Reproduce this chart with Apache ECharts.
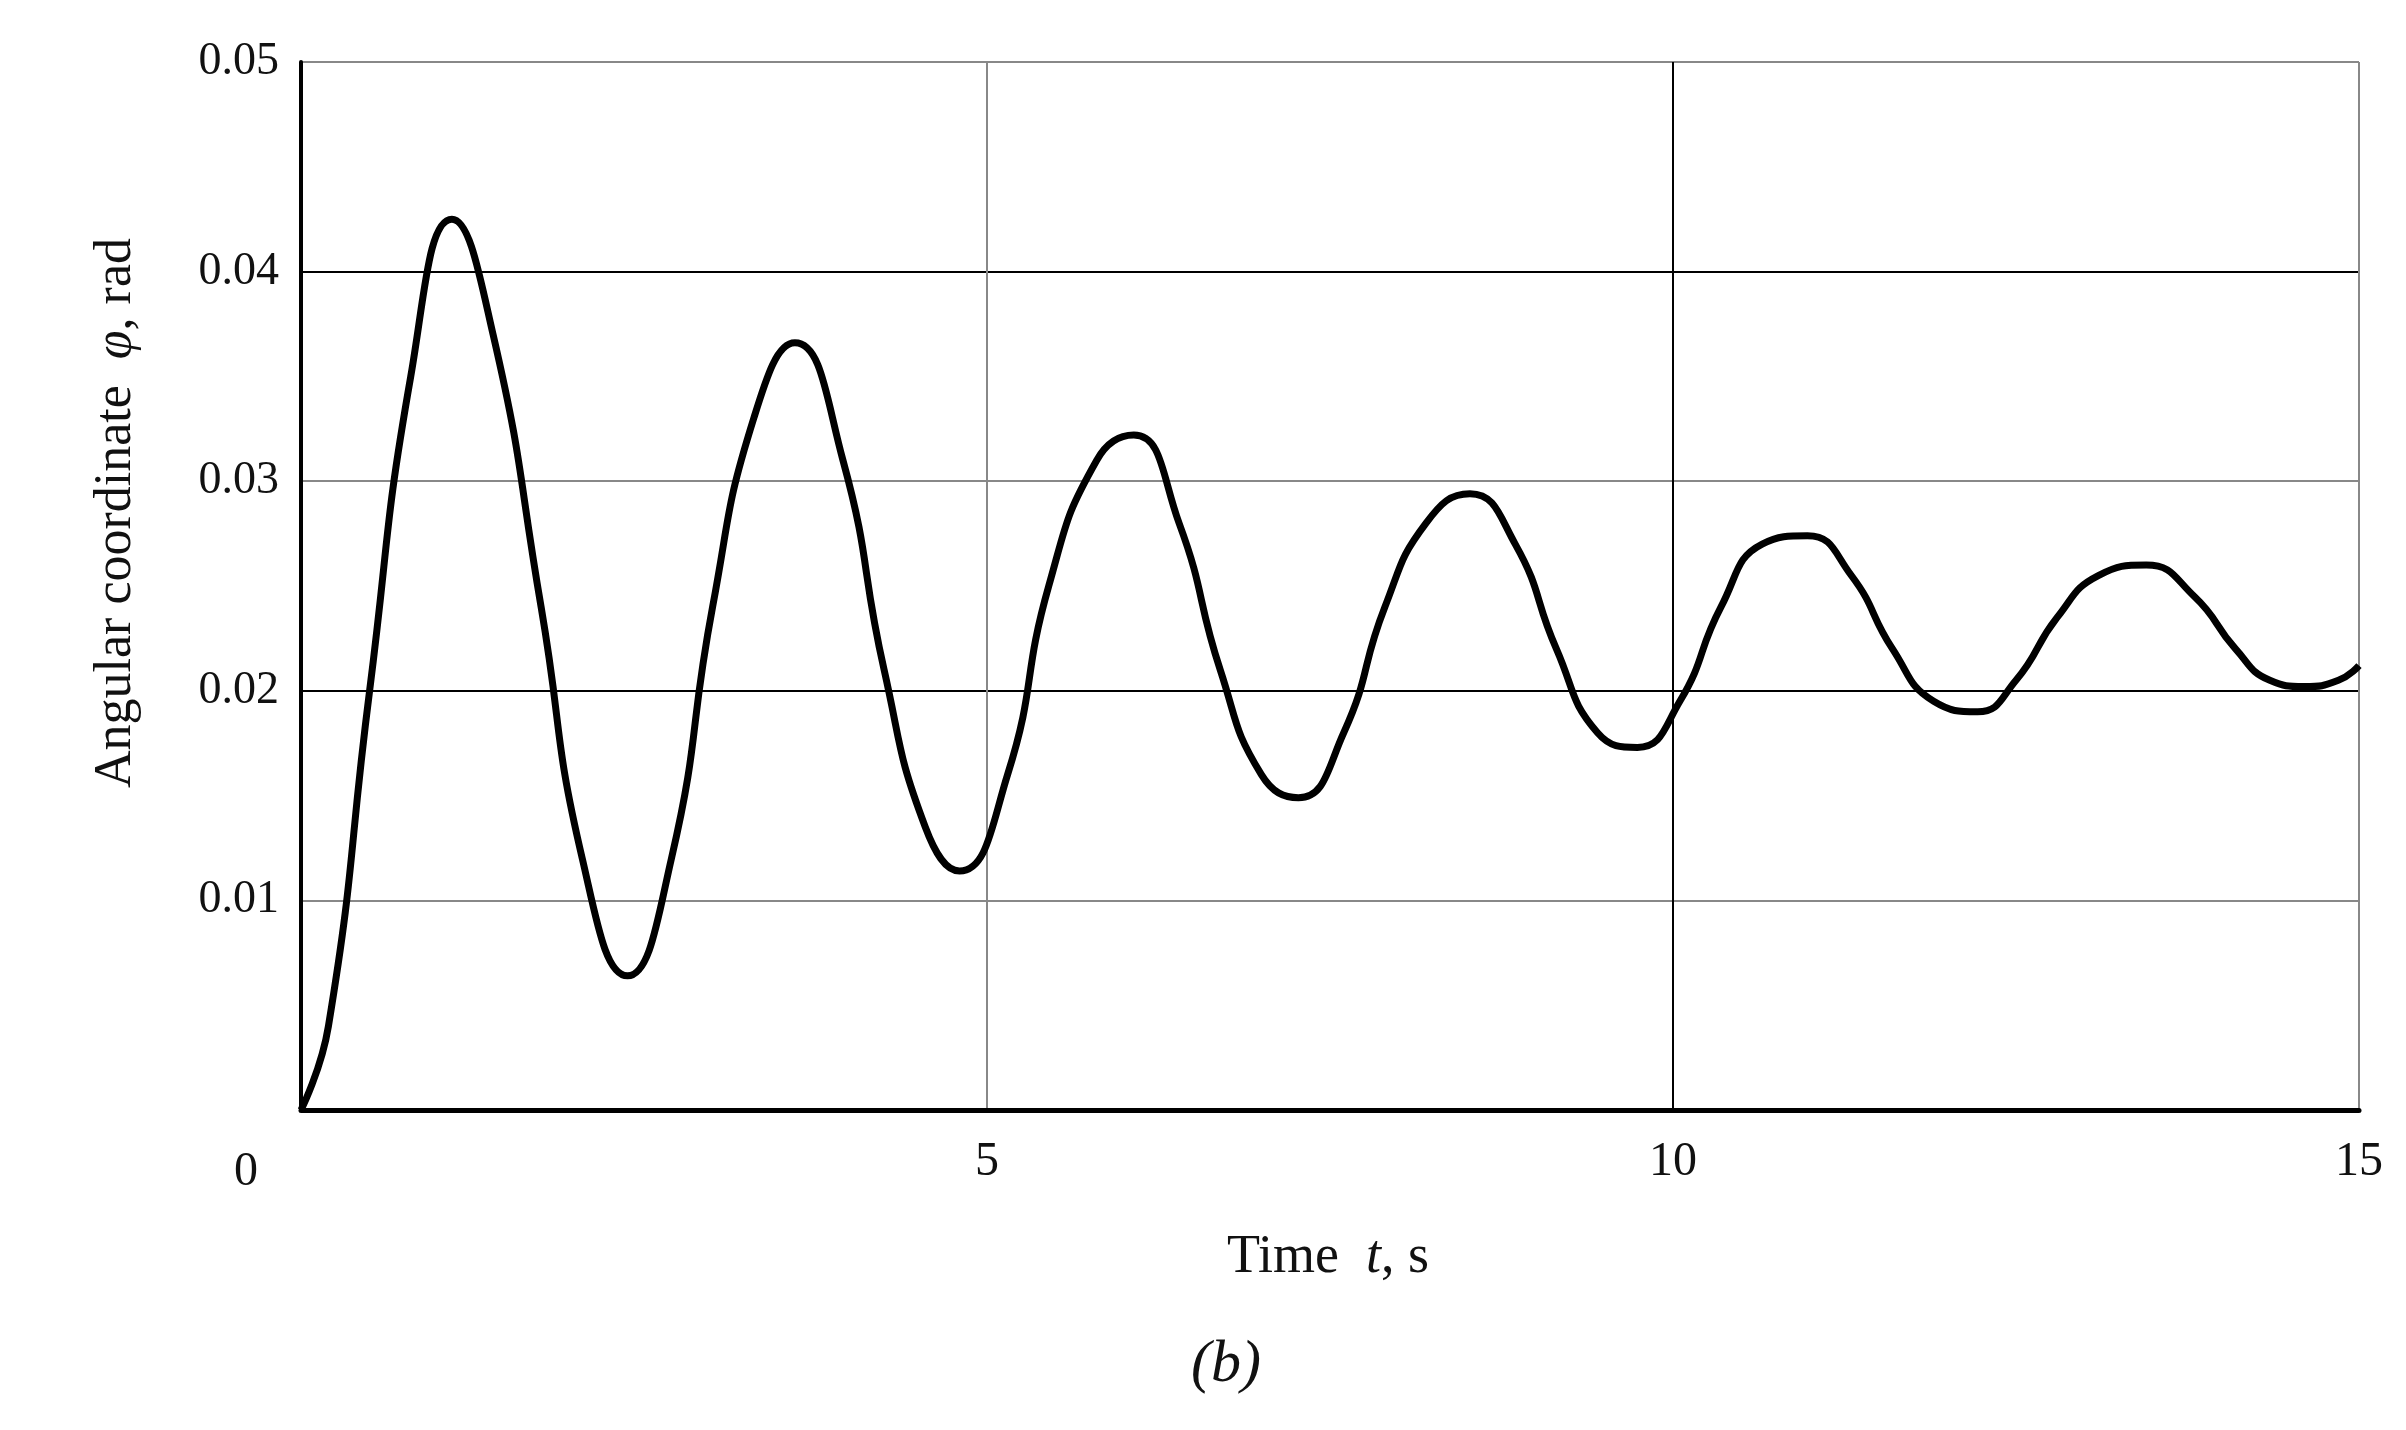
<!DOCTYPE html>
<html><head><meta charset="utf-8">
<script src="https://cdn.jsdelivr.net/npm/echarts@6/dist/echarts.min.js"></script>
<style>html,body{margin:0;background:#fff}#c{width:2406px;height:1430px}</style>
</head><body><div id="c"></div>
<script>
// time (s) and angle (rad)
const times = [0, 0.2, 0.5, 0.8, 1.1, 1.4, 1.75, 2.05, 2.38, 2.7, 3.0, 3.3, 3.6, 3.95, 4.25, 4.55, 4.8, 5.15, 5.45, 5.8, 6.07, 6.4, 6.7, 7.0, 7.27, 7.6, 7.9, 8.2, 8.52, 8.85, 9.15, 9.45, 9.74, 10.05, 10.35, 10.65, 10.98, 11.3, 11.6, 11.9, 12.22, 12.5, 12.8, 13.1, 13.45, 13.8, 14.1, 14.35, 14.6, 14.85, 15]
const angles = [0, 0.004, 0.02, 0.035, 0.0425, 0.037, 0.024, 0.012, 0.0064, 0.012, 0.024, 0.033, 0.0366, 0.031, 0.021, 0.0135, 0.0114, 0.016, 0.025, 0.031, 0.0322, 0.028, 0.021, 0.016, 0.0149, 0.018, 0.024, 0.028, 0.0294, 0.027, 0.022, 0.018, 0.0173, 0.0195, 0.024, 0.027, 0.0274, 0.0255, 0.022, 0.0195, 0.019, 0.0205, 0.0235, 0.0255, 0.026, 0.0245, 0.022, 0.0205, 0.0202, 0.0205, 0.0212]
const xTicks = [0, 5, 10, 15]
const yTicks = [0.01, 0.02, 0.03, 0.04, 0.05]

const font = 'Liberation Serif'
const chart = echarts.init(document.getElementById('c'))
chart.setOption({
    animation: false,
    grid: {left: 301, right: 47, top: 62, bottom: 320},
    xAxis: {
        type: 'value', min: 0, max: 15, interval: 5,
        axisLine: {lineStyle: {color: '#000', width: 5}},
        axisTick: {show: false},
        splitLine: {lineStyle: {color: ['#000', '#888'], width: 2}},
        axisLabel: {
            fontFamily: font, fontSize: 48, color: '#111', margin: 28,
            formatter: v => (v === 0 ? '' : String(v))
        }
    },
    yAxis: {
        type: 'value', min: 0, max: 0.05, interval: 0.01,
        axisLine: {lineStyle: {color: '#000', width: 4}},
        axisTick: {show: false},
        splitLine: {lineStyle: {color: ['#000', '#888'], width: 2}},
        axisLabel: {
            fontFamily: font, fontSize: 46, color: '#111', margin: 22,
            verticalAlign: 'middle',
            formatter: v => (yTicks.some(t => Math.abs(t - v) < 1e-9) ? v.toFixed(2) : '')
        }
    },
    graphic: [
        {type: 'text', left: 234, top: 1148, style: {text: '0', font: '48px "Liberation Serif"', fill: '#111'}},
        {type: 'text', x: 1328, y: 1258, style: {
            text: '{n|Time  }{i|t}{n|, s}', align: 'center', verticalAlign: 'middle',
            rich: {n: {font: '54px "Liberation Serif"', fill: '#111'}, i: {font: 'italic 54px "Liberation Serif"', fill: '#111'}}
        }},
        {type: 'text', x: 1226, y: 1365, style: {text: '(b)', font: 'italic 60px "Liberation Serif"', fill: '#111', align: 'center', verticalAlign: 'middle'}},
        {type: 'text', x: 116, y: 513, rotation: Math.PI / 2, style: {
            text: '{n|Angular coordinate  }{i|φ}{n|, rad}', align: 'center', verticalAlign: 'middle',
            rich: {n: {font: '52px "Liberation Serif"', fill: '#111'}, i: {font: 'italic 52px "Liberation Serif"', fill: '#111'}}
        }}
    ],
    series: [{
        type: 'line', smooth: 0.5, showSymbol: false,
        lineStyle: {color: '#000', width: 7},
        data: times.map((t, i) => [t, angles[i]])
    }]
})
</script></body></html>
